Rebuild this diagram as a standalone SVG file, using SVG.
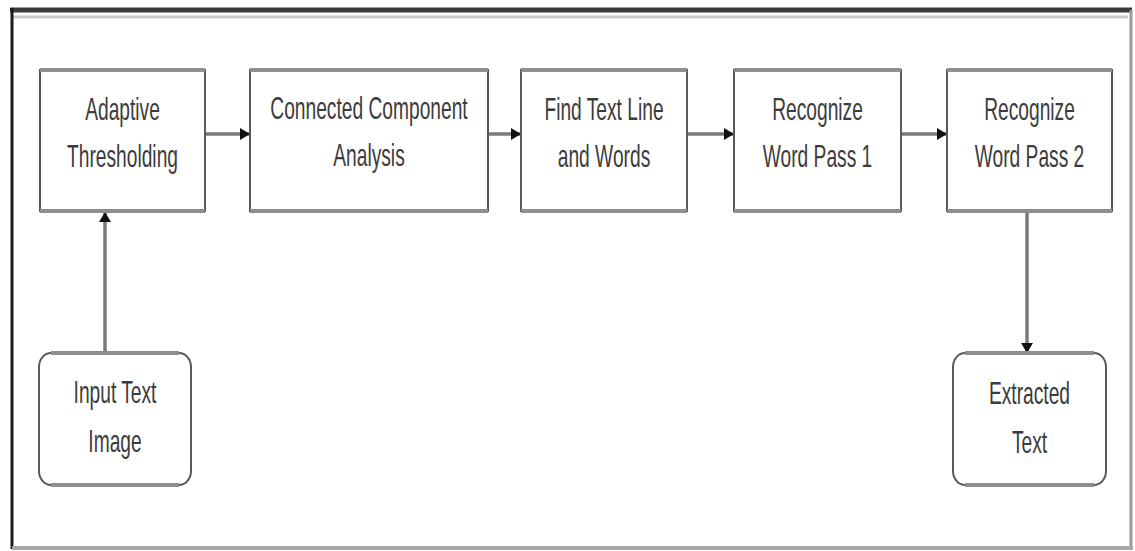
<svg xmlns="http://www.w3.org/2000/svg" width="1135" height="551" viewBox="0 0 1135 551">
  <style>
    .box { fill: #ffffff; stroke: #595959; stroke-width: 2; }
    .hedge { stroke: #8e8e8e; stroke-width: 4; fill: none; }
    .lbl { font-family: "Liberation Sans", Arial, sans-serif; font-size: 32px; fill: #3c3c3c; text-anchor: middle; }
    .wire { stroke: #7a7a7a; stroke-width: 3.5; fill: none; }
  </style>
  <defs>
    <marker id="head" markerUnits="userSpaceOnUse" markerWidth="10" markerHeight="14" refX="10" refY="7" orient="auto">
      <path d="M0,1 L10,7 L0,13 Z" fill="#111111"/>
    </marker>
  </defs>

  <rect x="0" y="0" width="1135" height="551" fill="#ffffff"/>

  <!-- outer frame: dark top/left, lighter right/bottom -->
  <g id="frame">
    <line x1="10" y1="10" x2="1132" y2="10" stroke="#3a3a3a" stroke-width="5"/>
    <line x1="12" y1="17" x2="1128" y2="17" stroke="#c8c8c8" stroke-width="3"/>
    <line x1="12" y1="8" x2="12" y2="549" stroke="#1c1c1c" stroke-width="3"/>
    <line x1="1131" y1="10" x2="1131" y2="549" stroke="#9a9a9a" stroke-width="3"/>
    <line x1="12" y1="548" x2="1133" y2="548" stroke="#a6a6a6" stroke-width="4"/>
  </g>

  <!-- connectors -->
  <g id="connectors">
    <line class="wire" x1="205" y1="134" x2="250" y2="134" marker-end="url(#head)"/>
    <line class="wire" x1="488" y1="134" x2="521" y2="134" marker-end="url(#head)"/>
    <line class="wire" x1="687" y1="134" x2="734" y2="134" marker-end="url(#head)"/>
    <line class="wire" x1="901" y1="134" x2="947" y2="134" marker-end="url(#head)"/>
    <line class="wire" x1="105" y1="353" x2="105" y2="212" marker-end="url(#head)"/>
    <line class="wire" x1="1027" y1="212" x2="1027" y2="353" marker-end="url(#head)"/>
  </g>

  <g id="adaptive-thresholding">
    <rect class="box" x="40" y="70" width="165" height="141"/>
    <path class="hedge" d="M40,70 H205 M40,211 H205"/>
    <text class="lbl" transform="translate(122.5 120) scale(0.6 1)">Adaptive</text>
    <text class="lbl" transform="translate(122.5 167) scale(0.6 1)">Thresholding</text>
  </g>

  <g id="connected-component-analysis">
    <rect class="box" x="250" y="70" width="238" height="141"/>
    <path class="hedge" d="M250,70 H488 M250,211 H488"/>
    <text class="lbl" transform="translate(369 119) scale(0.6 1)">Connected Component</text>
    <text class="lbl" transform="translate(369 166) scale(0.6 1)">Analysis</text>
  </g>

  <g id="find-text-line">
    <rect class="box" x="521" y="70" width="166" height="141"/>
    <path class="hedge" d="M521,70 H687 M521,211 H687"/>
    <text class="lbl" transform="translate(604 120) scale(0.6 1)">Find Text Line</text>
    <text class="lbl" transform="translate(604 167) scale(0.6 1)">and Words</text>
  </g>

  <g id="recognize-pass-1">
    <rect class="box" x="734" y="70" width="167" height="141"/>
    <path class="hedge" d="M734,70 H901 M734,211 H901"/>
    <text class="lbl" transform="translate(817.5 120) scale(0.6 1)">Recognize</text>
    <text class="lbl" transform="translate(817.5 167) scale(0.6 1)">Word Pass 1</text>
  </g>

  <g id="recognize-pass-2">
    <rect class="box" x="947" y="70" width="165" height="141"/>
    <path class="hedge" d="M947,70 H1112 M947,211 H1112"/>
    <text class="lbl" transform="translate(1029.5 120) scale(0.6 1)">Recognize</text>
    <text class="lbl" transform="translate(1029.5 167) scale(0.6 1)">Word Pass 2</text>
  </g>

  <g id="input-text-image">
    <rect class="box" x="39" y="353" width="152" height="132" rx="12" ry="14"/>
    <path class="hedge" d="M51,353 H179 M51,485 H179"/>
    <text class="lbl" transform="translate(115 403) scale(0.6 1)">Input Text</text>
    <text class="lbl" transform="translate(115 452) scale(0.6 1)">Image</text>
  </g>

  <g id="extracted-text">
    <rect class="box" x="953" y="353" width="153" height="132" rx="12" ry="14"/>
    <path class="hedge" d="M965,353 H1094 M965,485 H1094"/>
    <text class="lbl" transform="translate(1029.5 404) scale(0.6 1)">Extracted</text>
    <text class="lbl" transform="translate(1029.5 453) scale(0.6 1)">Text</text>
  </g>
</svg>
